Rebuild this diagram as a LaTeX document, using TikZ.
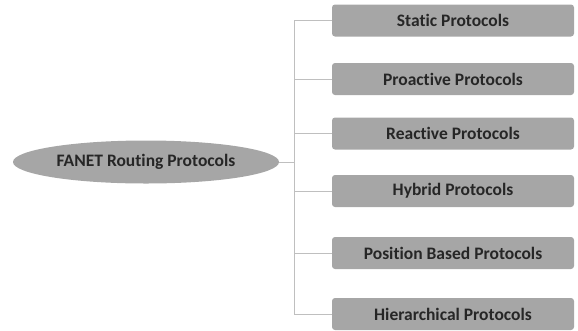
\documentclass[tikz,border=0pt]{standalone}
\usepackage{fontspec}
\setmainfont[Ligatures={NoCommon,NoRare}]{Carlito}
\usetikzlibrary{shapes.geometric}
\definecolor{boxgray}{HTML}{A6A6A6}
\definecolor{linegray}{HTML}{BFBFBF}
\definecolor{txt}{HTML}{262626}
\tikzset{
  protobox/.style={fill=boxgray, rounded corners=3pt, minimum width=242pt, minimum height=32pt, inner sep=0pt, text=txt, font=\bfseries\fontsize{17.5}{20}\selectfont},
  rootell/.style={ellipse, fill=boxgray, minimum width=266pt, minimum height=43pt, inner sep=0pt, text=txt, font=\bfseries\fontsize{17.5}{20}\selectfont},
  conn/.style={draw=linegray, line width=1pt}
}
\begin{document}
\begin{tikzpicture}[x=1pt,y=-1pt]
\useasboundingbox (0,0) rectangle (578,330);
\node[rootell] (root) at (146,162) {FANET Routing Protocols};
\node[protobox] (p1) at (453,20.5) {Static Protocols};
\node[protobox] (p2) at (453,79) {Proactive Protocols};
\node[protobox] (p3) at (453,133.5) {Reactive Protocols};
\node[protobox] (p4) at (453,191) {Hybrid Protocols};
\node[protobox] (p5) at (453,253) {Position Based Protocols};
\node[protobox] (p6) at (453,314) {Hierarchical Protocols};
\coordinate (trunk) at (294,162);
\draw[conn] (root.east) -- (trunk);
\draw[conn] (p1.west) -| (trunk);
\draw[conn] (p6.west) -| (trunk);
\foreach \i in {2,3,4,5} {
  \draw[conn] (p\i.west) -- (p\i.west -| trunk);
}
\end{tikzpicture}
\end{document}
